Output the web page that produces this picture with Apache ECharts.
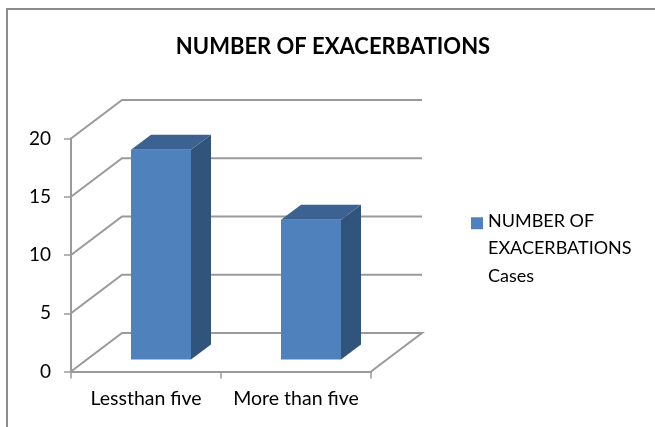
<!DOCTYPE html>
<html><head><meta charset="utf-8">
<style>html,body{margin:0;padding:0;background:#fff}#c{width:655px;height:427px}</style>
<script src="https://cdn.jsdelivr.net/npm/echarts@6/dist/echarts.min.js"></script>
</head><body><div id="c"></div>
<script>
const categories = ['Lessthan five', 'More than five'];
const caseValues = [18, 12];
const gridTicks = [0, 5, 10, 15, 20];
const seriesName = 'NUMBER OF\nEXACERBATIONS\nCases';
const titleText = 'NUMBER OF EXACERBATIONS';
const FONT = 'Lato, "Open Sans", sans-serif';
const WALL = [51, -38.5];   // depth of the 3-D floor in px
const BAR_FRONT = [16, -12], BAR_DEPTH = [20, -15];
const GRID_COL = '#9a9a9a';

const chart = echarts.init(document.getElementById('c'), null, {renderer: 'canvas'});
chart.setOption({
  animation: false,
  backgroundColor: '#fff',
  title: {text: titleText, left: 328, top: 31, textAlign: 'center',
    textStyle: {fontFamily: FONT, fontSize: 22, fontWeight: 'bold', color: '#000'}},
  legend: {
    left: 466, top: 202, orient: 'vertical', selectedMode: false,
    itemWidth: 12, itemHeight: 62, itemGap: 0,
    icon: 'path://M0 0H12V12H0Z M0 62L0.01 62L0 62Z',
    data: [seriesName],
    textStyle: {fontFamily: FONT, fontSize: 18, color: '#000', lineHeight: 27.5}
  },
  grid: {left: 71, right: 284, top: 138.5, bottom: 55.5},
  xAxis: {type: 'category', data: categories, boundaryGap: true,
    axisLine: {show: true, lineStyle: {color: GRID_COL, width: 2}},
    axisTick: {show: true, alignWithLabel: false, length: 7, lineStyle: {color: GRID_COL, width: 1.5}},
    axisLabel: {fontFamily: FONT, fontSize: 19.5, color: '#000', margin: 17, interval: 0, hideOverlap: false}},
  yAxis: {type: 'value', min: 0, max: 20, interval: 5,
    axisLine: {show: true, onZero: false, lineStyle: {color: GRID_COL, width: 2}},
    axisTick: {show: true, length: 7, lineStyle: {color: GRID_COL, width: 1.5}},
    splitLine: {show: false},
    axisLabel: {fontFamily: FONT, fontSize: 19, color: '#000', margin: 20}},
  series: [
    {
      type: 'custom', name: 'walls', silent: true, z: 1, legendHoverLink: false,
      data: gridTicks,
      encode: {y: 0},
      renderItem(params, api) {
        const v = api.value(0);
        const a = api.coord([0, v]);
        const x0 = params.coordSys.x, x1 = x0 + params.coordSys.width, y = a[1];
        const pts = [[x0, y], [x0 + WALL[0], y + WALL[1]], [x1 + WALL[0], y + WALL[1]]];
        if (v === 0) pts.push([x1, y]);
        return {type: 'polyline', shape: {points: pts}, style: {fill: null, stroke: GRID_COL, lineWidth: 2}};
      }
    },
    {
      type: 'custom', name: seriesName, z: 2,
      itemStyle: {color: '#4f81bd'},
      data: caseValues.map((v, i) => [i, v]),
      encode: {x: 0, y: 1},
      renderItem(params, api) {
        const top = api.coord([api.value(0), api.value(1)]);
        const base = api.coord([api.value(0), 0]);
        const w = 60;
        const x0 = top[0] - w / 2 + BAR_FRONT[0] - 1, x1 = x0 + w;
        const yt = top[1] + BAR_FRONT[1], yb = base[1] + BAR_FRONT[1];
        const dx = BAR_DEPTH[0], dy = BAR_DEPTH[1];
        return {type: 'group', children: [
          {type: 'polygon', shape: {points: [[x1, yt], [x1 + dx, yt + dy], [x1 + dx, yb + dy], [x1, yb]]}, style: {fill: '#31547c'}},
          {type: 'polygon', shape: {points: [[x0, yt], [x0 + dx, yt + dy], [x1 + dx, yt + dy], [x1, yt]]}, style: {fill: '#3b6291'}},
          {type: 'rect', shape: {x: x0, y: yt, width: w, height: yb - yt}, style: {fill: '#4f81bd'}}
        ]};
      }
    }
  ],
  graphic: [{type: 'polyline', silent: true, z: -1, shape: {points: [[7, 427], [7, 9], [655, 9]]},
    style: {fill: null, stroke: '#8c8c8c', lineWidth: 2}}]
});
</script></body></html>
